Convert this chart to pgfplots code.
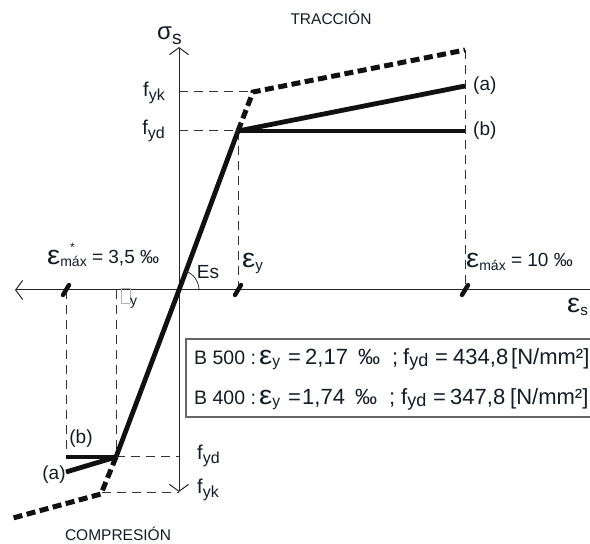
\documentclass[border=0pt]{standalone}
\usepackage{fontspec}
\setmainfont{Liberation Sans}
\usepackage{graphicx}
\usepackage{pgfplots}
\pgfplotsset{compat=1.18}
\usetikzlibrary{arrows.meta}

\definecolor{ink}{HTML}{141A26}
\definecolor{steel}{HTML}{111111}
\newcommand{\fs}[1]{\fontsize{#1bp}{#1bp}\selectfont}
% lowered subscript, scaled from the current size
\newcommand{\sbs}[1]{\raisebox{-0.32ex}{\scalebox{0.8}{#1}}}
\newcommand{\sbb}[1]{\raisebox{-0.25ex}{\scalebox{0.82}{#1}}}
% wide strain epsilon
\newcommand{\eps}{\scalebox{1.55}[1.4]{ε}}

\tikzset{
  thick line/.style={steel, line width=4.8bp},
  char line/.style={steel, line width=5bp, dash pattern=on 9bp off 4.5bp},
  guide/.style={black!80, line width=1bp, dash pattern=on 9bp off 6bp},
  lbl/.style={text=ink, inner sep=0pt},
  row/.style={lbl, anchor=base west, font=\fs{22}},
}

\begin{document}
\begin{tikzpicture}
\useasboundingbox (0,0) rectangle (590bp,544bp);
\begin{axis}[
  at={(0,0)}, anchor=south west,
  x=1bp, y=1bp,
  xmin=-179, xmax=411, ymin=-254, ymax=290,
  hide axis,
]
% ---- guide lines
\addplot[guide] coordinates {(0,198) (74,198)};
\addplot[guide] coordinates {(0,159) (59,159)};
\addplot[guide] coordinates {(59,159) (59,0)};
\addplot[guide] coordinates {(286,240) (286,0)};
\addplot[guide] coordinates {(-113,0) (-113,-167)};
\addplot[guide] coordinates {(-63,0) (-63,-167)};
\addplot[guide] coordinates {(-63,-167) (0,-167)};
\addplot[guide] coordinates {(-77,-203) (0,-203)};

% ---- axes
\addplot[black!85, line width=1bp,
  {Straight Barb[length=7bp,width=19bp]}-{Straight Barb[length=7bp,width=19bp]}]
  coordinates {(0,-202) (0,243)};
\addplot[black!85, line width=1bp, {Straight Barb[length=7bp,width=19bp]}-]
  coordinates {(-164,0) (430,0)};

% ---- characteristic diagram (dashed)
\addplot[char line] coordinates {(59,159) (74,198) (286,240)};
\addplot[char line] coordinates {(-63,-167) (-78,-204) (-166,-228)};

% ---- design diagram
\addplot[thick line] coordinates {(-63,-167) (0,0) (59,159)};
\addplot[thick line] coordinates {(59,159) (286,204)};
\addplot[thick line] coordinates {(59,159) (286,159)};
\addplot[thick line] coordinates {(-63,-167) (-113,-167)};
\addplot[thick line] coordinates {(-63,-167) (-113,-182)};

% ---- strain marks on the axis
\addplot[steel, line width=4.4bp, line cap=round] coordinates {(-116,-5) (-110,5)};
\addplot[steel, line width=4.4bp, line cap=round] coordinates {(56,-5) (62,5)};
\addplot[steel, line width=4.4bp, line cap=round] coordinates {(283,-5) (289,5)};

% ---- modulus arc
\draw[black!80, line width=0.8bp] (axis cs:20,0) arc[start angle=0, end angle=69.6, radius=20bp];

% ---- value box
\addplot[black!60, line width=1.4bp] coordinates {(430,-49) (7,-49) (7,-127) (430,-127)};

% ---- labels
\node[lbl, font=\fs{15.5}] at (axis cs:152,272) {TRACCIÓN};
\node[lbl, font=\fs{15.5}] at (axis cs:-61,-244) {COMPRESIÓN};
\node[lbl, font=\fs{24}, anchor=base west] at (axis cs:-22,250) {σ\sbs{s}};
\node[lbl, font=\fs{20}, anchor=base east] at (axis cs:-14,193) {f\sbs{yk}};
\node[lbl, font=\fs{20}, anchor=base east] at (axis cs:-14,155) {f\sbs{yd}};
\node[lbl, font=\fs{19}, anchor=west] at (axis cs:294,204) {(a)};
\node[lbl, font=\fs{19}, anchor=west] at (axis cs:294,159) {(b)};
\node[lbl, font=\fs{19}, anchor=base west] at (axis cs:287,23) {\eps\raisebox{-0.3ex}{\fs{14}máx}\fs{19} = 10 ‰};
\node[lbl, font=\fs{19}, anchor=base west] at (axis cs:63,23) {\eps\sbs{y}};
\node[lbl, font=\fs{19}] at (axis cs:29,18) {Es};
\node[lbl, font=\fs{19}, anchor=base west] at (axis cs:-132,26)
  {\eps\raisebox{-0.2ex}{\fs{14}máx}\fs{19} = 3,5 ‰};
\node[lbl, font=\fs{12}, anchor=base west] at (axis cs:-109,39) {*};
\node[lbl, font=\fs{14}, anchor=west] at (axis cs:-58,-8) {\textcolor{black!30}{\framebox[9bp]{\rule{0pt}{9bp}}}\raisebox{-0.7ex}{y}};
\node[lbl, font=\fs{19}, anchor=west] at (axis cs:388,-17) {\eps\sbs{s}};
\node[lbl, font=\fs{19}] at (axis cs:-98,-149) {(b)};
\node[lbl, font=\fs{19}] at (axis cs:-125,-185) {(a)};
\node[lbl, font=\fs{20}, anchor=west] at (axis cs:18,-166) {f\sbs{yd}};
\node[lbl, font=\fs{20}, anchor=west] at (axis cs:18,-200) {f\sbs{yk}};

% ---- box rows: B 500 (baseline -74), B 400 (baseline -114)
\node[row, font=\fs{19.5}] at (axis cs:15,-74) {B 500 :};
\node[row, font=\fs{19}] at (axis cs:80,-74) {\eps\sbb{y}};
\node[row] at (axis cs:109,-74) {=};
\node[row] at (axis cs:126,-74) {2,17};
\node[row] at (axis cs:179,-74) {‰};
\node[row] at (axis cs:213,-74) {;};
\node[row] at (axis cs:224,-74) {f\sbb{yd}};
\node[row] at (axis cs:256,-74) {=};
\node[row] at (axis cs:274,-74) {434,8};
\node[row] at (axis cs:332,-74) {[N/mm²]};

\node[row, font=\fs{19.5}] at (axis cs:15,-114) {B 400 :};
\node[row, font=\fs{19}] at (axis cs:80,-114) {\eps\sbb{y}};
\node[row] at (axis cs:109,-114) {=};
\node[row] at (axis cs:123,-114) {1,74};
\node[row] at (axis cs:176,-114) {‰};
\node[row] at (axis cs:210,-114) {;};
\node[row] at (axis cs:222,-114) {f\sbb{yd}};
\node[row] at (axis cs:254,-114) {=};
\node[row] at (axis cs:271,-114) {347,8};
\node[row] at (axis cs:331,-114) {[N/mm²]};
\end{axis}
\end{tikzpicture}
\end{document}
